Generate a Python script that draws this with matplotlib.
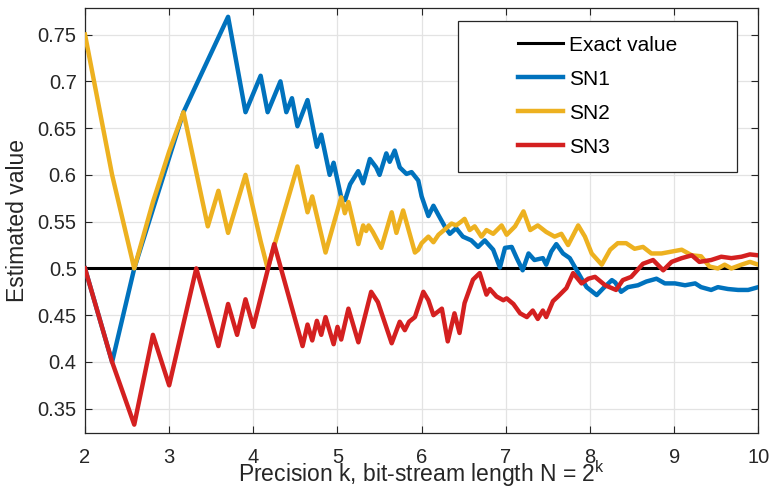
import matplotlib as mpl
mpl.use('Agg')
import matplotlib.pyplot as plt
from matplotlib.patches import Rectangle

# precision k values and running estimates
exact_x = [2, 10]
exact_y = [0.5, 0.5]

sn1_x = [2.000, 2.322, 2.585, 3.170, 3.700, 3.907, 4.087, 4.170, 4.322, 4.392,
         4.459, 4.524, 4.644, 4.755, 4.807, 4.907, 4.954, 5.044, 5.090, 5.150,
         5.246, 5.305, 5.385, 5.460, 5.500, 5.580, 5.620, 5.680, 5.740, 5.820,
         5.880, 5.960, 6.000, 6.080, 6.140, 6.200, 6.280, 6.335, 6.410, 6.490,
         6.590, 6.670, 6.750, 6.850, 6.930, 6.990, 7.070, 7.130, 7.200, 7.270,
         7.340, 7.440, 7.480, 7.540, 7.600, 7.680, 7.760, 7.830, 7.900, 7.960,
         8.080, 8.160, 8.260, 8.300, 8.370, 8.450, 8.570, 8.670, 8.790, 8.890,
         9.010, 9.130, 9.250, 9.320, 9.440, 9.520, 9.640, 9.760, 9.880, 10.000]
sn1_y = [0.500, 0.400, 0.500, 0.667, 0.769, 0.667, 0.706, 0.667, 0.700, 0.667,
         0.682, 0.652, 0.680, 0.630, 0.643, 0.600, 0.613, 0.576, 0.573, 0.590,
         0.604, 0.591, 0.617, 0.608, 0.600, 0.623, 0.614, 0.626, 0.608, 0.601,
         0.603, 0.594, 0.577, 0.556, 0.567, 0.557, 0.544, 0.537, 0.543, 0.534,
         0.530, 0.523, 0.530, 0.520, 0.501, 0.522, 0.523, 0.511, 0.498, 0.516,
         0.509, 0.511, 0.504, 0.518, 0.526, 0.516, 0.511, 0.500, 0.489, 0.480,
         0.4715, 0.479, 0.4875, 0.485, 0.475, 0.480, 0.482, 0.486, 0.489, 0.484,
         0.484, 0.482, 0.484, 0.480, 0.477, 0.480, 0.478, 0.477, 0.477, 0.480]

sn2_x = [2.000, 2.322, 2.585, 2.807, 3.000, 3.170, 3.459, 3.585, 3.700, 3.907,
         4.087, 4.170, 4.524, 4.644, 4.700, 4.858, 5.044, 5.087, 5.130, 5.248,
         5.305, 5.340, 5.370, 5.420, 5.520, 5.644, 5.700, 5.780, 5.920, 5.960,
         6.000, 6.080, 6.140, 6.200, 6.280, 6.355, 6.410, 6.470, 6.510, 6.570,
         6.630, 6.710, 6.770, 6.850, 6.950, 7.010, 7.110, 7.210, 7.290, 7.380,
         7.480, 7.580, 7.660, 7.740, 7.860, 7.940, 8.020, 8.140, 8.240, 8.330,
         8.430, 8.530, 8.630, 8.730, 8.850, 8.970, 9.090, 9.210, 9.320, 9.420,
         9.520, 9.600, 9.680, 9.800, 9.900, 10.000]
sn2_y = [0.750, 0.600, 0.500, 0.571, 0.625, 0.667, 0.545, 0.583, 0.538, 0.600,
         0.529, 0.500, 0.609, 0.560, 0.577, 0.517, 0.576, 0.559, 0.571, 0.526,
         0.546, 0.540, 0.546, 0.539, 0.522, 0.560, 0.538, 0.562, 0.517, 0.520,
         0.527, 0.534, 0.528, 0.536, 0.542, 0.548, 0.546, 0.550, 0.553, 0.541,
         0.545, 0.534, 0.541, 0.537, 0.546, 0.536, 0.545, 0.561, 0.541, 0.546,
         0.539, 0.534, 0.537, 0.525, 0.546, 0.534, 0.516, 0.504, 0.520, 0.527,
         0.527, 0.521, 0.523, 0.516, 0.516, 0.518, 0.520, 0.514, 0.513, 0.502,
         0.500, 0.504, 0.500, 0.504, 0.507, 0.504]

sn3_x = [2.000, 2.322, 2.585, 2.807, 3.000, 3.322, 3.585, 3.700, 3.807, 3.907,
         4.000, 4.248, 4.585, 4.644, 4.700, 4.755, 4.807, 4.858, 4.954, 5.000,
         5.044, 5.130, 5.248, 5.400, 5.480, 5.644, 5.740, 5.800, 5.850, 5.920,
         6.020, 6.080, 6.140, 6.240, 6.310, 6.390, 6.450, 6.510, 6.610, 6.690,
         6.770, 6.810, 6.890, 6.970, 7.010, 7.090, 7.170, 7.250, 7.320, 7.380,
         7.440, 7.480, 7.560, 7.620, 7.720, 7.800, 7.900, 7.980, 8.060, 8.180,
         8.310, 8.390, 8.490, 8.630, 8.750, 8.870, 8.970, 9.090, 9.210, 9.300,
         9.440, 9.560, 9.680, 9.800, 9.900, 10.000]
sn3_y = [0.500, 0.400, 0.333, 0.429, 0.375, 0.500, 0.417, 0.462, 0.429, 0.467,
         0.4375, 0.526, 0.417, 0.440, 0.423, 0.444, 0.429, 0.448, 0.419, 0.4375,
         0.424, 0.457, 0.421, 0.475, 0.464, 0.420, 0.443, 0.434, 0.443, 0.448,
         0.475, 0.466, 0.450, 0.457, 0.422, 0.452, 0.431, 0.463, 0.488, 0.495,
         0.472, 0.478, 0.470, 0.466, 0.468, 0.462, 0.452, 0.448, 0.455, 0.446,
         0.455, 0.448, 0.465, 0.470, 0.479, 0.495, 0.484, 0.489, 0.491, 0.482,
         0.477, 0.4875, 0.491, 0.505, 0.509, 0.498, 0.507, 0.511, 0.514, 0.507,
         0.509, 0.5125, 0.511, 0.5125, 0.515, 0.514]

yticks = [0.35, 0.4, 0.45, 0.5, 0.55, 0.6, 0.65, 0.7, 0.75]
ytick_labels = ['0.35', '0.4', '0.45', '0.5', '0.55', '0.6', '0.65', '0.7', '0.75']
xticks = [2, 3, 4, 5, 6, 7, 8, 9, 10]

plt.rcParams['font.family'] = ['Liberation Sans', 'DejaVu Sans']
plt.rcParams['mathtext.fontset'] = 'custom'
plt.rcParams['mathtext.rm'] = 'Liberation Sans'

fig = plt.figure(figsize=(7.7, 4.93), dpi=100)
ax = fig.add_axes([0.1104, 0.121, 0.8744, 0.862])

ax.plot(exact_x, exact_y, color='black', lw=2.2, label='Exact value', zorder=2)
ax.plot(sn1_x, sn1_y, color='#0072BD', lw=3.2, label='SN1', zorder=3)
ax.plot(sn2_x, sn2_y, color='#EDB120', lw=3.2, label='SN2', zorder=4)
ax.plot(sn3_x, sn3_y, color='#D42020', lw=3.2, label='SN3', zorder=5)

ax.set_xlim(2, 10)
ax.set_ylim(0.3237, 0.778)
ax.set_xticks(xticks)
ax.set_yticks(yticks)
ax.set_yticklabels(ytick_labels)
ax.grid(True, color='#e3e3e3', lw=0.9)
ax.set_axisbelow(True)
ax.tick_params(direction='in', top=True, right=True, length=5, width=0.8,
               colors='#262626', labelsize=14.5)
ax.tick_params(axis='x', pad=10.5)
ax.tick_params(axis='y', pad=6)
for sp in ax.spines.values():
    sp.set_color('#262626')
    sp.set_linewidth(0.9)

ax.set_xlabel(r'Precision k, bit-stream length N = 2$^{\mathregular{k}}$', fontsize=16.5,
              color='#262626', labelpad=-6.5)
ax.set_ylabel('Estimated value', fontsize=16.5, color='#262626', labelpad=6)

ax.add_patch(Rectangle((0.5544, 0.6155), 0.4136, 0.3553, transform=ax.transAxes,
                       facecolor='white', edgecolor='#262626', lw=0.9, zorder=10))
leg = ax.legend(loc='center', bbox_to_anchor=(0.761, 0.7936), frameon=False,
                fontsize=15, handlelength=2.15, handletextpad=0.3, labelspacing=0.72)
leg.set_zorder(11)

fig.savefig('out.png', dpi=100)
